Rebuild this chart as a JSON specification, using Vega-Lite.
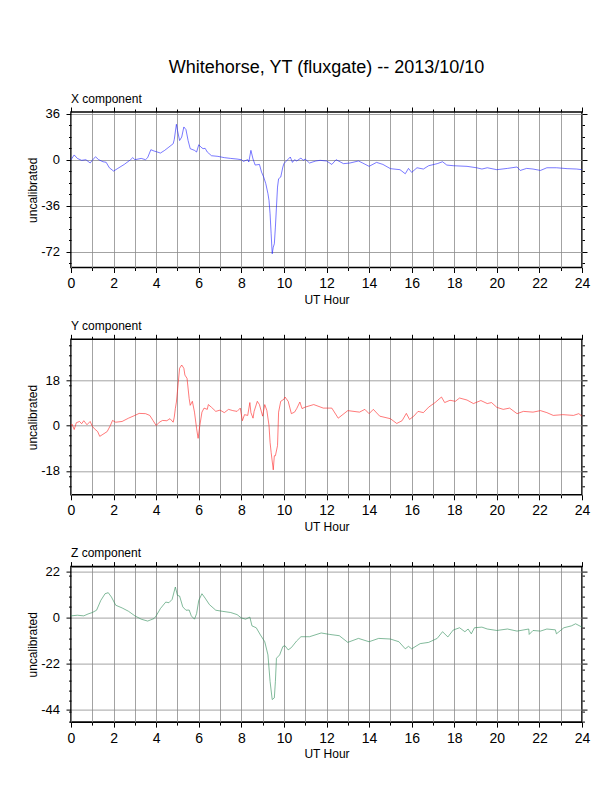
{
  "$schema": "https://vega.github.io/schema/vega-lite/v6.json",
  "background": "white",
  "padding": {"left": 25, "top": 58, "right": 5, "bottom": 5},
  "title": {"text": "Whitehorse, YT (fluxgate) -- 2013/10/10", "fontSize": 18, "font": "Liberation Sans", "fontWeight": "normal", "anchor": "middle", "frame": "group", "baseline": "alphabetic", "offset": 1, "color": "black"},
  "config": {
    "font": "Liberation Sans",
    "view": {"stroke": "black", "strokeWidth": 1.6},
    "axis": {"domain": false, "labelFont": "Liberation Sans", "titleFont": "Liberation Sans", "titleFontWeight": "normal", "titleColor": "black", "labelColor": "black", "tickColor": "black", "tickWidth": 1, "gridColor": "#8c8c8c", "gridWidth": 0.8, "labelOverlap": false, "labelFlush": false},
    "title": {"font": "Liberation Sans", "fontWeight": "normal", "color": "black"}
  },
  "bounds": "flush",
  "spacing": 71.3,
  "datasets": {
    "X": [
      {"h":0,"v":0},{"h":0.15,"v":3.7},{"h":0.3,"v":1},{"h":0.5,"v":-0.5},{"h":0.7,"v":0},{"h":0.9,"v":-2.6},{"h":1.0,"v":-0.5},{"h":1.15,"v":2.3},{"h":1.3,"v":0},{"h":1.5,"v":-1.6},{"h":1.65,"v":-2},{"h":1.8,"v":-6.3},{"h":2.0,"v":-8.9},{"h":2.2,"v":-6.8},{"h":2.5,"v":-3.7},{"h":2.8,"v":0},{"h":2.9,"v":1.6},{"h":3.0,"v":0},{"h":3.3,"v":1},{"h":3.5,"v":0},{"h":3.6,"v":1.6},{"h":3.75,"v":7.8},{"h":3.9,"v":6.8},{"h":4.0,"v":6.3},{"h":4.2,"v":5.2},{"h":4.4,"v":7.3},{"h":4.6,"v":9.9},{"h":4.8,"v":12.5},{"h":4.85,"v":15.7},{"h":4.95,"v":27.7},{"h":5.0,"v":23},{"h":5.1,"v":15},{"h":5.2,"v":17.7},{"h":5.3,"v":25.6},{"h":5.4,"v":23.5},{"h":5.5,"v":15},{"h":5.6,"v":8.6},{"h":5.8,"v":7.3},{"h":5.9,"v":6},{"h":6.0,"v":11.7},{"h":6.1,"v":9.9},{"h":6.2,"v":8.6},{"h":6.3,"v":8.9},{"h":6.4,"v":6},{"h":6.6,"v":3.1},{"h":6.9,"v":2.6},{"h":7.2,"v":1.6},{"h":7.5,"v":1},{"h":7.8,"v":0.5},{"h":8.0,"v":0},{"h":8.1,"v":-1.3},{"h":8.3,"v":0},{"h":8.35,"v":-1.8},{"h":8.45,"v":7.3},{"h":8.55,"v":0.5},{"h":8.65,"v":-4.2},{"h":8.85,"v":-3.7},{"h":8.95,"v":-9.7},{"h":9.05,"v":-13.6},{"h":9.15,"v":-18.8},{"h":9.25,"v":-26.6},{"h":9.3,"v":-31.8},{"h":9.35,"v":-42.3},{"h":9.4,"v":-58},{"h":9.45,"v":-73.6},{"h":9.5,"v":-68.4},{"h":9.55,"v":-65.8},{"h":9.6,"v":-52.7},{"h":9.65,"v":-37},{"h":9.7,"v":-21.4},{"h":9.75,"v":-14.9},{"h":9.85,"v":-13.6},{"h":9.95,"v":-5.7},{"h":10.0,"v":-3.1},{"h":10.1,"v":-1.3},{"h":10.3,"v":2.1},{"h":10.4,"v":-2.1},{"h":10.5,"v":0},{"h":10.6,"v":-1},{"h":10.8,"v":1.3},{"h":10.9,"v":-0.5},{"h":11.0,"v":0.5},{"h":11.2,"v":-2.6},{"h":11.5,"v":-1},{"h":11.7,"v":-0.5},{"h":12.0,"v":-1},{"h":12.25,"v":-3.7},{"h":12.45,"v":0},{"h":12.8,"v":-3.1},{"h":13.1,"v":-2.6},{"h":13.5,"v":-1},{"h":13.7,"v":-2.6},{"h":14.0,"v":-5.2},{"h":14.35,"v":-2.1},{"h":14.65,"v":-3.7},{"h":15.0,"v":-7},{"h":15.45,"v":-7.8},{"h":15.7,"v":-11},{"h":15.85,"v":-6.8},{"h":16.0,"v":-9.9},{"h":16.25,"v":-6.3},{"h":16.55,"v":-7.3},{"h":16.8,"v":-4.7},{"h":17.2,"v":-3.1},{"h":17.45,"v":-1.6},{"h":17.65,"v":-4.2},{"h":17.95,"v":-4.7},{"h":18.6,"v":-5.2},{"h":19.05,"v":-6.3},{"h":19.3,"v":-7.3},{"h":19.55,"v":-6.3},{"h":20.0,"v":-7.8},{"h":20.5,"v":-6.8},{"h":20.95,"v":-5.7},{"h":21.1,"v":-8.4},{"h":21.4,"v":-6.8},{"h":21.7,"v":-7.3},{"h":22.05,"v":-8.4},{"h":22.35,"v":-6.3},{"h":22.8,"v":-6.3},{"h":23.3,"v":-7},{"h":23.75,"v":-7.3},{"h":24.0,"v":-7.8}
    ],
    "Y": [
      {"h":0,"v":0},{"h":0.05,"v":0.5},{"h":0.15,"v":-1.6},{"h":0.25,"v":1.1},{"h":0.4,"v":1.6},{"h":0.5,"v":0.7},{"h":0.6,"v":1.9},{"h":0.75,"v":0.3},{"h":0.9,"v":1.6},{"h":1.0,"v":-0.3},{"h":1.1,"v":-1.3},{"h":1.25,"v":-2.4},{"h":1.35,"v":-4.3},{"h":1.5,"v":-3.5},{"h":1.7,"v":-2.4},{"h":1.85,"v":0},{"h":1.95,"v":2},{"h":2.1,"v":1.3},{"h":2.4,"v":1.6},{"h":2.7,"v":2.9},{"h":3.0,"v":4},{"h":3.2,"v":4.8},{"h":3.5,"v":4.7},{"h":3.7,"v":4},{"h":3.85,"v":2},{"h":4.0,"v":0},{"h":4.15,"v":1.3},{"h":4.3,"v":2},{"h":4.5,"v":1.9},{"h":4.65,"v":2.7},{"h":4.8,"v":1.3},{"h":4.85,"v":3.3},{"h":4.9,"v":6.7},{"h":4.95,"v":9.3},{"h":5.0,"v":13.6},{"h":5.1,"v":22.7},{"h":5.2,"v":24},{"h":5.3,"v":22.7},{"h":5.35,"v":20},{"h":5.45,"v":18.7},{"h":5.55,"v":10.7},{"h":5.6,"v":8},{"h":5.7,"v":9.6},{"h":5.8,"v":5.3},{"h":5.9,"v":-1.3},{"h":5.97,"v":-5.1},{"h":6.05,"v":0},{"h":6.15,"v":5.3},{"h":6.25,"v":6.9},{"h":6.4,"v":6.4},{"h":6.45,"v":8.3},{"h":6.6,"v":7.2},{"h":6.8,"v":5.6},{"h":7.0,"v":6.1},{"h":7.2,"v":5.1},{"h":7.4,"v":6.4},{"h":7.6,"v":5.9},{"h":7.8,"v":5.6},{"h":7.95,"v":6.9},{"h":8.05,"v":1.9},{"h":8.15,"v":4.3},{"h":8.3,"v":4},{"h":8.4,"v":9.1},{"h":8.45,"v":5.1},{"h":8.55,"v":2.9},{"h":8.6,"v":5.6},{"h":8.75,"v":9.6},{"h":8.85,"v":8.3},{"h":9.0,"v":3.7},{"h":9.1,"v":8.3},{"h":9.2,"v":5.9},{"h":9.3,"v":0},{"h":9.35,"v":-6.7},{"h":9.4,"v":-10.7},{"h":9.5,"v":-17.6},{"h":9.55,"v":-12},{"h":9.6,"v":-12},{"h":9.7,"v":-8},{"h":9.75,"v":5.3},{"h":9.85,"v":9.6},{"h":10.0,"v":10.4},{"h":10.05,"v":11.3},{"h":10.2,"v":9.6},{"h":10.35,"v":4.7},{"h":10.5,"v":5.3},{"h":10.6,"v":6.7},{"h":10.75,"v":9.3},{"h":10.85,"v":6.7},{"h":11.0,"v":7.3},{"h":11.4,"v":8.3},{"h":11.85,"v":6.9},{"h":12.25,"v":6.9},{"h":12.55,"v":2.9},{"h":13.0,"v":5.9},{"h":13.55,"v":5.3},{"h":13.8,"v":6.4},{"h":14.0,"v":4.7},{"h":14.2,"v":6.4},{"h":14.5,"v":3.7},{"h":15.0,"v":2.7},{"h":15.3,"v":0.8},{"h":15.55,"v":1.9},{"h":15.75,"v":4.8},{"h":15.9,"v":2.4},{"h":16.1,"v":3.7},{"h":16.3,"v":5.6},{"h":16.55,"v":5.1},{"h":16.8,"v":7.3},{"h":17.1,"v":9.1},{"h":17.4,"v":11.3},{"h":17.55,"v":9.1},{"h":17.8,"v":10},{"h":18.05,"v":9.6},{"h":18.25,"v":10.9},{"h":18.6,"v":10.1},{"h":18.9,"v":8.7},{"h":19.25,"v":9.9},{"h":19.55,"v":8.7},{"h":19.75,"v":9.1},{"h":20.0,"v":7.2},{"h":20.3,"v":6.4},{"h":20.6,"v":6.9},{"h":20.95,"v":4.7},{"h":21.25,"v":5.6},{"h":21.7,"v":5.3},{"h":22.05,"v":5.9},{"h":22.35,"v":5.1},{"h":22.65,"v":4},{"h":23.1,"v":4.3},{"h":23.6,"v":4},{"h":23.85,"v":4.7},{"h":24.0,"v":3.7}
    ],
    "Z": [
      {"h":0,"v":0.8},{"h":0.3,"v":1.1},{"h":0.6,"v":0.8},{"h":0.8,"v":1.7},{"h":1.0,"v":2.4},{"h":1.2,"v":3.5},{"h":1.4,"v":8.2},{"h":1.6,"v":11.4},{"h":1.75,"v":11.9},{"h":1.9,"v":9.8},{"h":2.1,"v":5.9},{"h":2.4,"v":4.6},{"h":2.7,"v":3},{"h":3.0,"v":0.8},{"h":3.3,"v":-0.8},{"h":3.6,"v":-1.7},{"h":3.9,"v":-0.5},{"h":4.0,"v":0.8},{"h":4.2,"v":4.3},{"h":4.45,"v":7.4},{"h":4.6,"v":7.1},{"h":4.75,"v":8.7},{"h":4.9,"v":14.6},{"h":5.0,"v":10.6},{"h":5.1,"v":10.3},{"h":5.25,"v":5.1},{"h":5.4,"v":3.5},{"h":5.55,"v":3.6},{"h":5.65,"v":0.8},{"h":5.8,"v":-0.8},{"h":5.9,"v":1.9},{"h":6.0,"v":8.2},{"h":6.15,"v":11.4},{"h":6.3,"v":9.3},{"h":6.5,"v":6.2},{"h":6.8,"v":3.5},{"h":7.1,"v":3},{"h":7.5,"v":2.4},{"h":7.8,"v":1.4},{"h":8.0,"v":-0.2},{"h":8.2,"v":-0.8},{"h":8.4,"v":0.2},{"h":8.5,"v":-4},{"h":8.7,"v":-4.9},{"h":8.9,"v":-8.4},{"h":9.1,"v":-11.6},{"h":9.25,"v":-17.9},{"h":9.35,"v":-30.6},{"h":9.45,"v":-39.3},{"h":9.55,"v":-38.5},{"h":9.6,"v":-30.6},{"h":9.65,"v":-19.5},{"h":9.8,"v":-17.9},{"h":9.95,"v":-13.9},{"h":10.05,"v":-13.5},{"h":10.2,"v":-15.5},{"h":10.35,"v":-14.4},{"h":10.6,"v":-11.2},{"h":10.8,"v":-9.2},{"h":11.2,"v":-9.2},{"h":11.75,"v":-7.4},{"h":12.15,"v":-8.1},{"h":12.6,"v":-8.7},{"h":13.0,"v":-11.9},{"h":13.5,"v":-10},{"h":14.0,"v":-11.6},{"h":14.45,"v":-10},{"h":15.0,"v":-10.3},{"h":15.4,"v":-11.6},{"h":15.7,"v":-15},{"h":15.85,"v":-13.8},{"h":16.0,"v":-15},{"h":16.4,"v":-12.5},{"h":16.8,"v":-11.9},{"h":17.2,"v":-10},{"h":17.45,"v":-6.8},{"h":17.7,"v":-9.3},{"h":17.95,"v":-6},{"h":18.25,"v":-4.9},{"h":18.5,"v":-6.8},{"h":18.65,"v":-5.5},{"h":18.8,"v":-7.8},{"h":18.95,"v":-4.9},{"h":19.3,"v":-4.6},{"h":19.55,"v":-5.5},{"h":20.0,"v":-6.2},{"h":20.5,"v":-5.5},{"h":20.95,"v":-6.5},{"h":21.5,"v":-5.5},{"h":21.52,"v":-8.1},{"h":21.7,"v":-6.2},{"h":22.05,"v":-6.5},{"h":22.35,"v":-5.5},{"h":22.75,"v":-5.9},{"h":22.8,"v":-7.8},{"h":23.15,"v":-4.9},{"h":23.5,"v":-4},{"h":23.7,"v":-3},{"h":24.0,"v":-4.6}
    ]
  },
  "vconcat": [
    {
      "width": 511, "height": 155.5,
      "title": {"text": "X component", "anchor": "start", "frame": "group", "fontSize": 12, "baseline": "alphabetic", "offset": -8},
      "data": {"name": "X"},
      "resolve": {"scale": {"x": "independent", "y": "independent"}, "axis": {"x": "independent", "y": "independent"}},
      "layer": [
        {
          "mark": {"type": "line", "color": "#2020ff", "strokeWidth": 0.6},
          "encoding": {
            "x": {"field": "h", "type": "quantitative", "scale": {"domain": [0, 24], "nice": false},
              "axis": {"orient": "bottom", "values": [0,1,2,3,4,5,6,7,8,9,10,11,12,13,14,15,16,17,18,19,20,21,22,23,24], "labelExpr": "datum.value % 2 == 0 ? toString(datum.value) : ''", "tickSize": {"condition": {"test": "datum.value % 2 == 0", "value": 5}, "value": 3}, "grid": true, "labelFontSize": 14, "labelPadding": 4, "title": "UT Hour", "titleFontSize": 12, "titleY": 35.5, "titleBaseline": "alphabetic"}},
            "y": {"field": "v", "type": "quantitative", "scale": {"domain": [-84.3, 37.3], "nice": false, "zero": false},
              "axis": {"orient": "left", "values": [-81,-72,-63,-54,-45,-36,-27,-18,-9,0,9,18,27,36], "labelExpr": "datum.value % 36 == 0 ? toString(datum.value) : ''", "tickSize": {"condition": {"test": "datum.value % 36 == 0", "value": 5}, "value": 2.5}, "grid": true, "gridOpacity": {"condition": {"test": "datum.value % 36 == 0", "value": 1}, "value": 0}, "labelFontSize": 13, "labelPadding": 6.5, "title": "uncalibrated", "titleFontSize": 12, "titleX": -38.5, "titleY": 77.75, "titleAngle": -90, "titleAlign": "center", "titleBaseline": "middle"}}
          }
        },
        {
          "mark": {"type": "line", "opacity": 0},
          "encoding": {
            "x": {"field": "h", "type": "quantitative", "scale": {"domain": [0, 24], "nice": false},
              "axis": {"orient": "top", "values": [0,1,2,3,4,5,6,7,8,9,10,11,12,13,14,15,16,17,18,19,20,21,22,23,24], "labels": false, "grid": false, "title": null, "tickSize": {"condition": {"test": "datum.value % 2 == 0", "value": 5}, "value": 3}}},
            "y": {"field": "v", "type": "quantitative", "scale": {"domain": [-84.3, 37.3], "nice": false, "zero": false},
              "axis": {"orient": "right", "values": [-81,-72,-63,-54,-45,-36,-27,-18,-9,0,9,18,27,36], "labels": false, "grid": false, "title": null, "tickSize": {"condition": {"test": "datum.value % 36 == 0", "value": 5}, "value": 2.5}}}
          }
        }
      ]
    },
    {
      "width": 511, "height": 155.5,
      "title": {"text": "Y component", "anchor": "start", "frame": "group", "fontSize": 12, "baseline": "alphabetic", "offset": -8},
      "data": {"name": "Y"},
      "resolve": {"scale": {"x": "independent", "y": "independent"}, "axis": {"x": "independent", "y": "independent"}},
      "layer": [
        {
          "mark": {"type": "line", "color": "#ff2020", "strokeWidth": 0.6},
          "encoding": {
            "x": {"field": "h", "type": "quantitative", "scale": {"domain": [0, 24], "nice": false},
              "axis": {"orient": "bottom", "values": [0,1,2,3,4,5,6,7,8,9,10,11,12,13,14,15,16,17,18,19,20,21,22,23,24], "labelExpr": "datum.value % 2 == 0 ? toString(datum.value) : ''", "tickSize": {"condition": {"test": "datum.value % 2 == 0", "value": 5}, "value": 3}, "grid": true, "labelFontSize": 14, "labelPadding": 4, "title": "UT Hour", "titleFontSize": 12, "titleY": 35.5, "titleBaseline": "alphabetic"}},
            "y": {"field": "v", "type": "quantitative", "scale": {"domain": [-27.5, 34.2], "nice": false, "zero": false},
              "axis": {"orient": "left", "values": [-24,-20,-18,-16,-12,-8,-4,0,4,8,12,16,18,20,24,28,32], "labelExpr": "datum.value % 18 == 0 ? toString(datum.value) : ''", "tickSize": {"condition": {"test": "datum.value % 18 == 0", "value": 5}, "value": 2.5}, "grid": true, "gridOpacity": {"condition": {"test": "datum.value % 18 == 0", "value": 1}, "value": 0}, "labelFontSize": 13, "labelPadding": 6.5, "title": "uncalibrated", "titleFontSize": 12, "titleX": -38.5, "titleY": 77.75, "titleAngle": -90, "titleAlign": "center", "titleBaseline": "middle"}}
          }
        },
        {
          "mark": {"type": "line", "opacity": 0},
          "encoding": {
            "x": {"field": "h", "type": "quantitative", "scale": {"domain": [0, 24], "nice": false},
              "axis": {"orient": "top", "values": [0,1,2,3,4,5,6,7,8,9,10,11,12,13,14,15,16,17,18,19,20,21,22,23,24], "labels": false, "grid": false, "title": null, "tickSize": {"condition": {"test": "datum.value % 2 == 0", "value": 5}, "value": 3}}},
            "y": {"field": "v", "type": "quantitative", "scale": {"domain": [-27.5, 34.2], "nice": false, "zero": false},
              "axis": {"orient": "right", "values": [-24,-20,-18,-16,-12,-8,-4,0,4,8,12,16,18,20,24,28,32], "labels": false, "grid": false, "title": null, "tickSize": {"condition": {"test": "datum.value % 18 == 0", "value": 5}, "value": 2.5}}}
          }
        }
      ]
    },
    {
      "width": 511, "height": 155.5,
      "title": {"text": "Z component", "anchor": "start", "frame": "group", "fontSize": 12, "baseline": "alphabetic", "offset": -8},
      "data": {"name": "Z"},
      "resolve": {"scale": {"x": "independent", "y": "independent"}, "axis": {"x": "independent", "y": "independent"}},
      "layer": [
        {
          "mark": {"type": "line", "color": "#2e8b57", "strokeWidth": 0.6},
          "encoding": {
            "x": {"field": "h", "type": "quantitative", "scale": {"domain": [0, 24], "nice": false},
              "axis": {"orient": "bottom", "values": [0,1,2,3,4,5,6,7,8,9,10,11,12,13,14,15,16,17,18,19,20,21,22,23,24], "labelExpr": "datum.value % 2 == 0 ? toString(datum.value) : ''", "tickSize": {"condition": {"test": "datum.value % 2 == 0", "value": 5}, "value": 3}, "grid": true, "labelFontSize": 14, "labelPadding": 4, "title": "UT Hour", "titleFontSize": 12, "titleY": 35.5, "titleBaseline": "alphabetic"}},
            "y": {"field": "v", "type": "quantitative", "scale": {"domain": [-50.1, 24.4], "nice": false, "zero": false},
              "axis": {"orient": "left", "values": [-50,-45,-44,-40,-35,-30,-25,-22,-20,-15,-10,-5,0,5,10,15,20,22], "labelExpr": "datum.value % 22 == 0 ? toString(datum.value) : ''", "tickSize": {"condition": {"test": "datum.value % 22 == 0", "value": 5}, "value": 2.5}, "grid": true, "gridOpacity": {"condition": {"test": "datum.value % 22 == 0", "value": 1}, "value": 0}, "labelFontSize": 13, "labelPadding": 6.5, "title": "uncalibrated", "titleFontSize": 12, "titleX": -38.5, "titleY": 77.75, "titleAngle": -90, "titleAlign": "center", "titleBaseline": "middle"}}
          }
        },
        {
          "mark": {"type": "line", "opacity": 0},
          "encoding": {
            "x": {"field": "h", "type": "quantitative", "scale": {"domain": [0, 24], "nice": false},
              "axis": {"orient": "top", "values": [0,1,2,3,4,5,6,7,8,9,10,11,12,13,14,15,16,17,18,19,20,21,22,23,24], "labels": false, "grid": false, "title": null, "tickSize": {"condition": {"test": "datum.value % 2 == 0", "value": 5}, "value": 3}}},
            "y": {"field": "v", "type": "quantitative", "scale": {"domain": [-50.1, 24.4], "nice": false, "zero": false},
              "axis": {"orient": "right", "values": [-50,-45,-44,-40,-35,-30,-25,-22,-20,-15,-10,-5,0,5,10,15,20,22], "labels": false, "grid": false, "title": null, "tickSize": {"condition": {"test": "datum.value % 22 == 0", "value": 5}, "value": 2.5}}}
          }
        }
      ]
    }
  ]
}
